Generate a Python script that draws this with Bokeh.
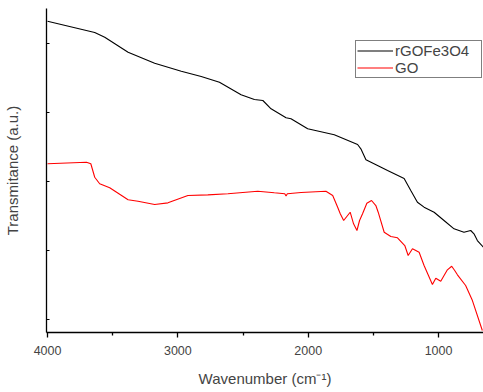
from bokeh.plotting import figure
from bokeh.models import Range1d, FixedTicker, Legend, LegendItem
from bokeh.embed import file_html
from bokeh.resources import INLINE

# rGOFe3O4 spectrum (wavenumber cm-1, transmittance a.u.)
wn_rgo = [4000, 3638, 3561, 3382, 3178, 2974, 2821, 2681, 2515, 2413, 2348, 2285,
          2170, 2132, 2004, 1800, 1621, 1596, 1557, 1468, 1391, 1264, 1213, 1162,
          1111, 1034, 958, 881, 805, 753, 728, 702, 656]
t_rgo = [53.23, 51.59, 50.91, 48.74, 47.14, 45.99, 45.22, 44.39, 42.57, 41.88, 41.74, 40.54,
         39.23, 39.09, 37.64, 36.77, 35.36, 34.74, 33.14, 32.32, 31.59, 30.43, 28.70, 27.00,
         26.28, 25.55, 24.35, 23.14, 22.65, 22.90, 22.42, 21.45, 20.48]

# GO spectrum
wn_go = [4000, 3701, 3668, 3638, 3600, 3523, 3382, 3306, 3178, 3076, 2923, 2770,
         2616, 2387, 2260, 2180, 2170, 2160, 2055, 1864, 1812, 1774, 1754, 1728, 1678,
         1652, 1626, 1606, 1583, 1550, 1514, 1481, 1463, 1417, 1366, 1315, 1259, 1233,
         1200, 1149, 1111, 1047, 1021, 983, 932, 899, 876, 855, 792, 740, 664]
t_go = [32.57, 32.80, 32.57, 30.62, 29.67, 29.09, 27.35, 27.14, 26.67, 26.91, 27.97, 28.07,
        28.22, 28.59, 28.36, 28.22, 27.90, 28.22, 28.41, 28.59, 27.97, 26.28, 25.32, 24.35, 25.55,
        23.87, 22.90, 24.35, 25.32, 26.86, 27.25, 26.52, 25.55, 22.65, 22.03, 21.84, 20.72, 19.28,
        20.25, 19.75, 17.83, 15.07, 15.99, 15.55, 17.20, 17.72, 17.10, 16.48, 14.93, 12.75, 8.41]

x_ticks = [4000, 3000, 2000, 1000]
x_minor = [3500, 2500, 1500]
y_ticks = [10, 20, 30, 40, 50]

FONT = "Liberation Sans"

p = figure(width=483, height=392, output_backend="svg", toolbar_location=None,
           x_range=Range1d(4008, 655), y_range=Range1d(8.12, 55.07),
           min_border_left=45, min_border_right=0, min_border_top=8,
           min_border_bottom=60)
p.outline_line_color = None
p.grid.visible = False
p.background_fill_color = "white"
p.border_fill_color = "white"

r1 = p.line(wn_rgo, t_rgo, line_color="black", line_width=1.1)
r2 = p.line(wn_go, t_go, line_color="#ff0000", line_width=1.1)

xa = p.xaxis[0]
xa.ticker = FixedTicker(ticks=x_ticks, minor_ticks=x_minor)
xa.axis_label = "Wavenumber (cm\u207b\u00b9)"
xa.axis_label_text_font = FONT
xa.axis_label_text_font_size = "15px"
xa.axis_label_text_font_style = "normal"
xa.axis_label_standoff = 12
xa.major_label_text_font = FONT
xa.major_label_text_font_size = "12.5px"
xa.major_label_standoff = 8
xa.major_tick_out = 5
xa.major_tick_in = 0
xa.minor_tick_out = 3
xa.minor_tick_in = 0
xa.axis_line_width = 1.3
xa.major_tick_line_width = 1.3
xa.minor_tick_line_width = 1.3

ya = p.yaxis[0]
ya.ticker = FixedTicker(ticks=y_ticks, minor_ticks=[])
ya.major_label_overrides = {t: "" for t in y_ticks}
ya.major_label_standoff = 0
ya.major_tick_out = 0
ya.major_tick_in = 3
ya.minor_tick_out = 0
ya.minor_tick_in = 0
ya.axis_line_width = 1.3
ya.major_tick_line_width = 1.0
ya.axis_label = "Transmitance (a.u.)"
ya.axis_label_text_font = FONT
ya.axis_label_text_font_size = "15px"
ya.axis_label_text_font_style = "normal"
ya.axis_label_standoff = 26

legend = Legend(items=[LegendItem(label="rGOFe3O4", renderers=[r1]),
                       LegendItem(label="GO", renderers=[r2])],
                location=(309, 254))
legend.label_text_font = FONT
legend.label_text_font_size = "15px"
legend.glyph_width = 36
legend.glyph_height = 15
legend.label_height = 15
legend.label_width = 85
legend.label_standoff = 2
legend.padding = 1
legend.spacing = 0
legend.margin = 0
legend.border_line_color = "black"
legend.border_line_width = 1
legend.background_fill_alpha = 1
p.add_layout(legend)

open("out.html", "w").write(file_html(p, INLINE))
